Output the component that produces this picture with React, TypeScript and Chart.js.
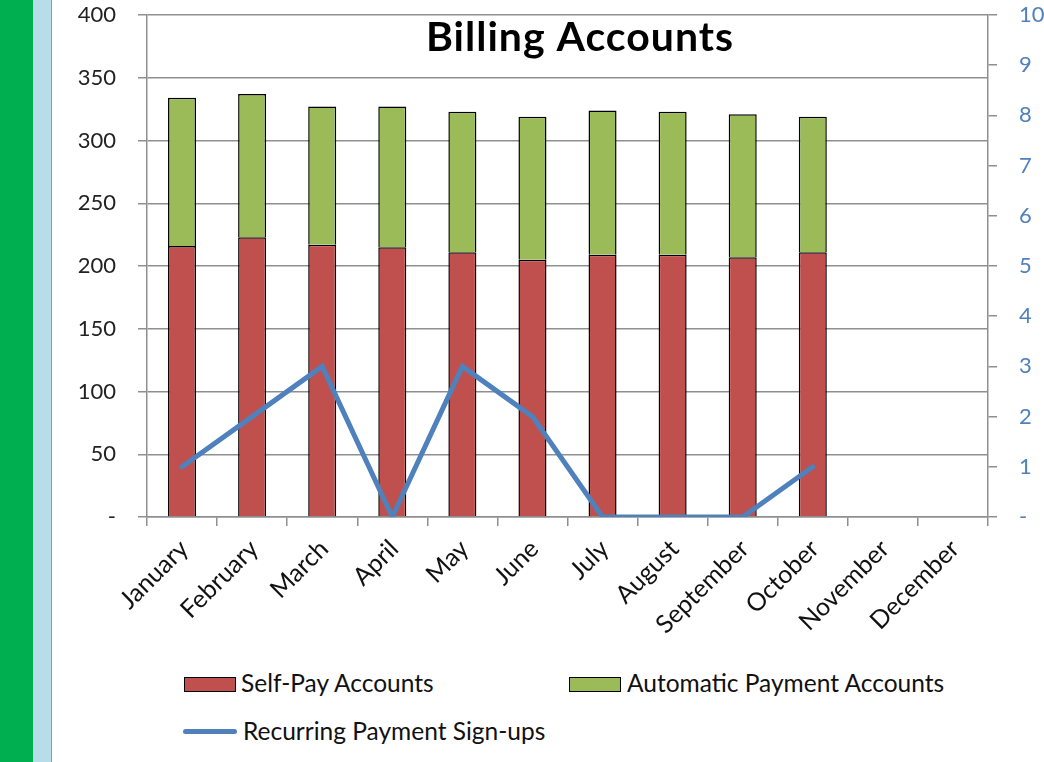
import React, { useEffect, useRef } from "react";
import { Chart, registerables } from "chart.js";

Chart.register(...registerables);

const months = ["January", "February", "March", "April", "May", "June", "July", "August", "September", "October", "November", "December"];
const selfPay = [216, 223, 217, 215, 211, 205, 209, 209, 207, 211, null, null];
const automatic = [118, 114, 110, 112, 112, 114, 115, 114, 114, 108, null, null];
const signups = [1, 2, 3, 0, 3, 2, 0, 0, 0, 1, null, null];
const titleText = "Billing Accounts";
const seriesNames = ["Self-Pay Accounts", "Automatic Payment Accounts", "Recurring Payment Sign-ups"];

const RED = "#C0504D";
const GREEN = "#9BBB59";
const BLUE = "#4F81BD";
const GRID = "#8f8f8f";
const FONT = "Lato";

const CANVAS_LEFT = 52;
const CANVAS_W = 992;
const CANVAS_H = 640;

const titlePlugin = {
  id: "overlayTitle",
  afterDraw(chart: any) {
    const ctx = chart.ctx;
    ctx.save();
    ctx.font = `bold 41px ${FONT}`;
    try { (ctx as any).letterSpacing = "1px"; } catch (e) {}
    ctx.fillStyle = "#000";
    ctx.textAlign = "center";
    ctx.textBaseline = "middle";
    ctx.fillText(titleText, 580 - CANVAS_LEFT, 38);
    ctx.restore();
  },
};

export default function App() {
  const ref = useRef<HTMLCanvasElement>(null);

  useEffect(() => {
    Chart.defaults.font.family = FONT;
    const chart = new Chart(ref.current as HTMLCanvasElement, {
      type: "bar",
      data: {
        labels: months,
        datasets: [
          {
            type: "line",
            label: seriesNames[2],
            data: signups,
            yAxisID: "y1",
            borderColor: BLUE,
            backgroundColor: BLUE,
            borderWidth: 5,
            pointRadius: 0,
            tension: 0,
            borderCapStyle: "round",
            borderJoinStyle: "miter",
            order: 0,
          } as any,
          {
            type: "bar",
            label: seriesNames[0],
            data: selfPay,
            yAxisID: "y",
            backgroundColor: RED,
            borderColor: "#000",
            borderWidth: 1.5,
            barPercentage: 0.4,
            categoryPercentage: 1,
            order: 1,
          },
          {
            type: "bar",
            label: seriesNames[1],
            data: automatic,
            yAxisID: "y",
            backgroundColor: GREEN,
            borderColor: "#000",
            borderWidth: 1.5,
            barPercentage: 0.4,
            categoryPercentage: 1,
            order: 1,
          },
        ],
      },
      options: {
        responsive: false,
        animation: false,
        layout: { padding: { top: 15, left: 0, right: 0, bottom: 0 } },
        plugins: {
          legend: { display: false },
          tooltip: { enabled: false },
          title: { display: false },
        },
        scales: {
          x: {
            stacked: true,
            offset: true,
            grid: {
              display: true,
              drawOnChartArea: false,
              drawTicks: true,
              tickLength: 9,
              color: GRID,
              lineWidth: 1.5,
              offset: true,
            },
            border: { display: true, color: GRID, width: 1.5 },
            ticks: {
              minRotation: 45,
              maxRotation: 45,
              autoSkip: false,
              padding: 8,
              labelOffset: 2,
              color: "#111",
              font: { size: 25, family: FONT },
            },
            afterFit(scale: any) {
              scale.height = 123;
            },
          },
          y: {
            stacked: true,
            position: "left",
            min: 0,
            max: 400,
            ticks: {
              stepSize: 50,
              padding: 22,
              color: "#222",
              font: { size: 22, family: FONT },
              callback: (v: any) => (v === 0 ? "-" : String(v)),
            },
            grid: {
              color: GRID,
              lineWidth: 1.5,
              tickLength: 9,
              drawTicks: true,
            },
            border: { display: true, color: GRID, width: 1.5 },
            afterFit(scale: any) {
              scale.width = 95;
              scale.paddingTop = 0;
              scale.paddingBottom = 0;
            },
          },
          y1: {
            position: "right",
            min: 0,
            max: 10,
            ticks: {
              stepSize: 1,
              padding: 22,
              color: BLUE,
              font: { size: 22, family: FONT },
              callback: (v: any) => (v === 0 ? "-" : String(v)),
            },
            grid: {
              drawOnChartArea: false,
              drawTicks: true,
              tickLength: 9,
              color: GRID,
              lineWidth: 1.5,
            },
            border: { display: true, color: GRID, width: 1.5 },
            afterFit(scale: any) {
              scale.width = 56;
              scale.paddingTop = 0;
              scale.paddingBottom = 0;
            },
          },
        },
      } as any,
      plugins: [titlePlugin],
    });
    return () => chart.destroy();
  }, []);

  const legendText: React.CSSProperties = {
    position: "absolute",
    fontFamily: FONT,
    fontSize: 24.5,
    color: "#111",
    lineHeight: "28px",
    whiteSpace: "nowrap",
  };

  return (
    <div style={{ position: "fixed", left: 0, top: 0, width: 1044, height: 762, background: "#fff", overflow: "hidden" }}>
      <div style={{ position: "absolute", left: 0, top: 0, width: 33, height: 762, background: "#00B050" }} />
      <div style={{ position: "absolute", left: 33, top: 0, width: 18, height: 762, background: "#B7DDE8" }} />
      <div style={{ position: "absolute", left: 51, top: 0, width: 1, height: 762, background: "#9a9a9a" }} />
      <canvas
        ref={ref}
        width={CANVAS_W}
        height={CANVAS_H}
        style={{ position: "absolute", left: CANVAS_LEFT, top: 0, width: CANVAS_W, height: CANVAS_H }}
      />
      <div style={{ position: "absolute", left: 184, top: 677, width: 50, height: 13, background: RED, border: "1.5px solid #000" }} />
      <div style={{ ...legendText, left: 241, top: 669 }}>{seriesNames[0]}</div>
      <div style={{ position: "absolute", left: 569, top: 677, width: 50, height: 13, background: GREEN, border: "1.5px solid #000" }} />
      <div style={{ ...legendText, left: 627, top: 669 }}>{seriesNames[1]}</div>
      <div style={{ position: "absolute", left: 183, top: 729, width: 54, height: 5, borderRadius: 3, background: BLUE }} />
      <div style={{ ...legendText, left: 243, top: 717 }}>{seriesNames[2]}</div>
    </div>
  );
}
